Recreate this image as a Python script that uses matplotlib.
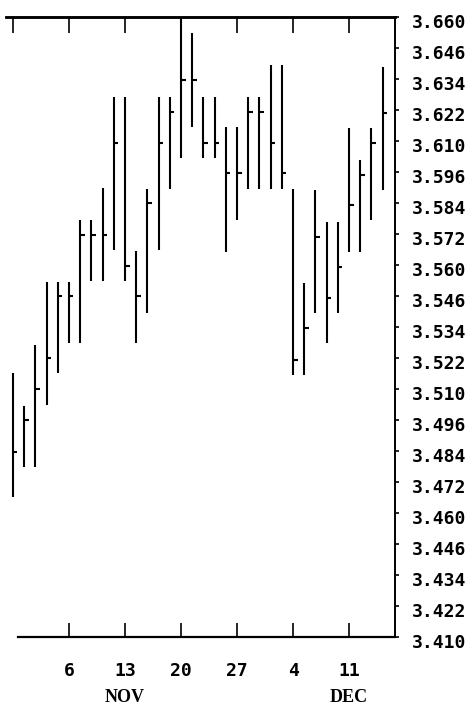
import matplotlib
matplotlib.use('Agg')
import matplotlib.pyplot as plt
import matplotlib.transforms as mtransforms
import numpy as np

# daily bars (trading days from Mon Oct 30 to Fri Dec 15)
highs = [3.5164, 3.5031, 3.5277, 3.5531, 3.5531, 3.5531, 3.5781, 3.5781, 3.5910, 3.6277,
         3.6277, 3.5656, 3.5906, 3.6277, 3.6277, 3.6596, 3.6535, 3.6277, 3.6277, 3.6156,
         3.6156, 3.6277, 3.6277, 3.6406, 3.6406, 3.5906, 3.5527, 3.5902, 3.5773, 3.5773,
         3.6152, 3.6023, 3.6152, 3.6398]
lows = [3.4665, 3.4786, 3.4786, 3.5036, 3.5164, 3.5285, 3.5285, 3.5535, 3.5535, 3.5660,
        3.5535, 3.5285, 3.5406, 3.5660, 3.5906, 3.6031, 3.6156, 3.6031, 3.6031, 3.5652,
        3.5781, 3.5906, 3.5906, 3.5906, 3.5906, 3.5156, 3.5156, 3.5406, 3.5285, 3.5406,
        3.5652, 3.5652, 3.5781, 3.5902]
closes = [3.4846, 3.4975, 3.5100, 3.5225, 3.5475, 3.5475, 3.5721, 3.5721, 3.5721, 3.6092,
          3.5596, 3.5475, 3.5850, 3.6092, 3.6217, 3.6346, 3.6346, 3.6092, 3.6092, 3.5971,
          3.5971, 3.6217, 3.6217, 3.6092, 3.5971, 3.5217, 3.5346, 3.5713, 3.5467, 3.5592,
          3.5842, 3.5963, 3.6092, 3.6213]

week_ticks = [5, 10, 15, 20, 25, 30]
week_labels = ['6', '13', '20', '27', '4', '11']
month_labels = ['NOV', 'DEC']
month_pos = [10, 30]
price_labels = ['3.410', '3.422', '3.434', '3.446', '3.460', '3.472', '3.484',
                '3.496', '3.510', '3.522', '3.534', '3.546', '3.560', '3.572',
                '3.584', '3.596', '3.610', '3.622', '3.634', '3.646', '3.660']

W, H = 472, 709
fig = plt.figure(figsize=(W / 100, H / 100), dpi=100)
ax = fig.add_axes([6 / W, 1 - 637 / H, (395 - 6) / W, 620 / H])

x = np.arange(len(highs))
ax.vlines(x, lows, highs, color='black', linewidth=1.5)
ax.hlines(closes, x, x + 0.4, color='black', linewidth=1.5)

ax.set_xlim(-0.625, 34.1)
ax.set_ylim(3.410, 3.660)

# frame
ax.spines['left'].set_visible(False)
ax.spines['top'].set_linewidth(1.8)
ax.spines['bottom'].set_linewidth(1.6)
ax.spines['right'].set_linewidth(1.4)
ax.spines['bottom'].set_bounds(0.45, 34.1)

# price axis on the right
ax.yaxis.tick_right()
ax.set_yticks(np.linspace(3.410, 3.660, len(price_labels)))
ax.set_yticklabels(price_labels, fontfamily='DejaVu Sans Mono', fontweight='bold', fontsize=13)
ax.tick_params(axis='y', direction='out', length=3, width=1.2, pad=9)
shift = mtransforms.ScaledTranslation(0, -0.04, fig.dpi_scale_trans)
for lab in ax.get_yticklabels():
    lab.set_transform(lab.get_transform() + shift)

# weeks along the bottom
ax.set_xticks(week_ticks)
ax.set_xticklabels(week_labels, fontfamily='DejaVu Sans Mono', fontweight='bold', fontsize=13)
ax.tick_params(axis='x', direction='in', length=10, width=1.2, pad=18)

top = ax.secondary_xaxis('top')
top.set_xticks([0] + week_ticks)
top.set_xticklabels([])
top.tick_params(direction='in', length=11.5, width=1.2)
top.spines['top'].set_linewidth(1.8)

trans = mtransforms.blended_transform_factory(ax.transData, ax.transAxes)
for name, pos in zip(month_labels, month_pos):
    ax.text(pos, -0.097, name, transform=trans, ha='center', va='center',
            fontfamily='Liberation Serif', fontweight='bold', fontsize=13)

fig.savefig('out.png', dpi=100)
